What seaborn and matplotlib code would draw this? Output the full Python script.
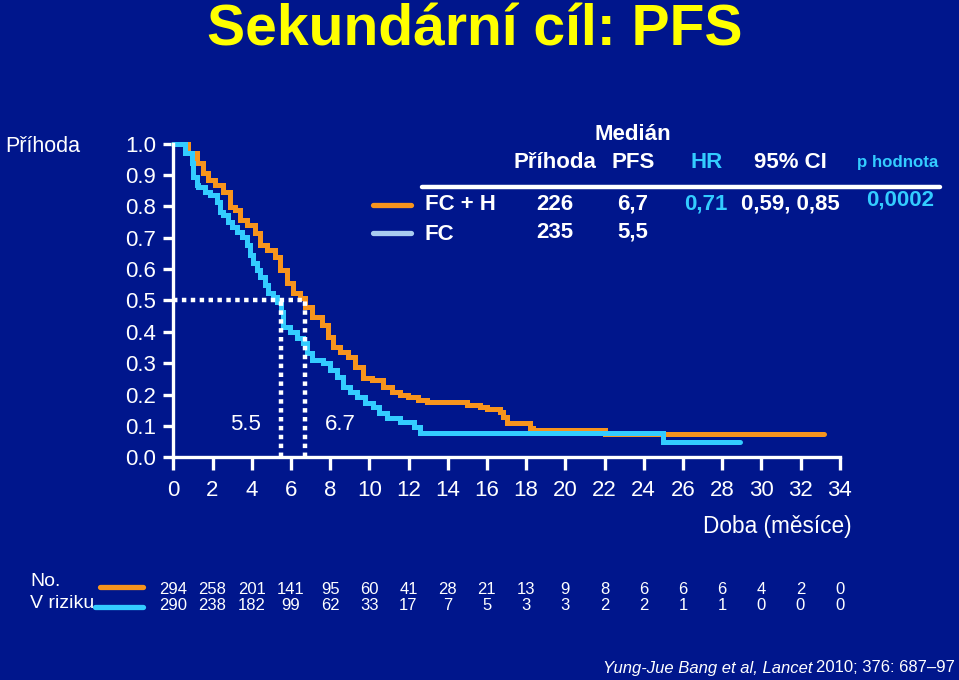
import matplotlib
matplotlib.use("Agg")
import matplotlib.pyplot as plt
import matplotlib.transforms as mtransforms
from matplotlib.lines import Line2D
import seaborn as sns
import pandas as pd

# ---------------- data ----------------
fch_time = [0, 0.75, 1.21, 1.52, 1.77, 2.13, 2.54, 2.89, 3.15, 3.40, 3.76, 4.17, 4.42,
            4.78, 5.19, 5.45, 5.80, 6.11, 6.47, 6.72, 7.09, 7.59, 7.89, 8.14, 8.50,
            8.91, 9.27, 9.68, 10.14, 10.70, 11.16, 11.57, 11.98, 12.49, 12.95, 15.0,
            15.65, 16.0, 16.67, 16.8, 17.02, 18.2, 18.35, 22.0, 33.2]
fch_surv = [1.0, 0.970, 0.938, 0.906, 0.884, 0.868, 0.846, 0.798, 0.788, 0.756, 0.740,
            0.715, 0.677, 0.661, 0.639, 0.597, 0.556, 0.524, 0.508, 0.479, 0.447,
            0.421, 0.383, 0.351, 0.335, 0.319, 0.288, 0.253, 0.246, 0.224, 0.208,
            0.199, 0.192, 0.183, 0.176, 0.167, 0.160, 0.154, 0.144, 0.128, 0.109,
            0.093, 0.087, 0.075, 0.075]
fc_time = [0, 0.6, 0.95, 1.0, 1.21, 1.28, 1.62, 1.87, 2.23, 2.38, 2.54, 2.79, 3.0,
           3.25, 3.5, 3.76, 3.9, 4.07, 4.27, 4.42, 4.68, 4.83, 5.09, 5.29, 5.5, 5.6,
           5.96, 6.3, 6.6, 6.8, 7.1, 7.63, 7.99, 8.35, 8.66, 9.0, 9.36, 9.77, 10.2,
           10.5, 10.9, 11.57, 12.3, 12.6, 25.0, 28.9]
fc_surv = [1.0, 0.970, 0.938, 0.894, 0.868, 0.862, 0.846, 0.836, 0.814, 0.782, 0.772,
           0.750, 0.734, 0.718, 0.702, 0.677, 0.645, 0.619, 0.597, 0.574, 0.549,
           0.524, 0.510, 0.495, 0.463, 0.415, 0.399, 0.380, 0.364, 0.332, 0.310,
           0.301, 0.278, 0.256, 0.224, 0.208, 0.192, 0.173, 0.160, 0.141, 0.125,
           0.113, 0.097, 0.078, 0.050, 0.050]

medians = [5.5, 6.7]
median_labels = ["5.5", "6.7"]

x_ticks = list(range(0, 35, 2))
y_ticks = [0.0, 0.1, 0.2, 0.3, 0.4, 0.5, 0.6, 0.7, 0.8, 0.9, 1.0]

risk_fch = [294, 258, 201, 141, 95, 60, 41, 28, 21, 13, 9, 8, 6, 6, 6, 4, 2, 0]
risk_fc = [290, 238, 182, 99, 62, 33, 17, 7, 5, 3, 3, 2, 2, 1, 1, 0, 0, 0]

table_cols = ["Příhoda", "PFS", "HR", "95% CI", "p hodnota"]
row_fch = ["FC + H", "226", "6,7", "0,71", "0,59, 0,85", "0,0002"]
row_fc = ["FC", "235", "5,5"]

# ---------------- style ----------------
BG = "#00168C"
ORANGE = "#F7941D"
CYAN = "#33CCFF"
PALE = "#A8CCF0"
YELLOW = "#FFFF00"

sns.set_style("ticks")
plt.rcParams["font.family"] = ["Liberation Sans", "DejaVu Sans"]

W, H = 959, 680
fig = plt.figure(figsize=(W / 100, H / 100), dpi=100, facecolor=BG)


def P(x, y):
    return x / W, 1 - y / H


x0, x1 = 173.3, 839.7
y0, y1 = 457.3, 143.6
ax = fig.add_axes([x0 / W, 1 - y0 / H, (x1 - x0) / W, (y0 - y1) / H])
ax.set_facecolor(BG)

df1 = pd.DataFrame({"t": fch_time, "s": fch_surv})
df2 = pd.DataFrame({"t": fc_time, "s": fc_surv})
sns.lineplot(data=df1, x="t", y="s", ax=ax, color=ORANGE, lw=3.6, drawstyle="steps-post",
             estimator=None, sort=False, clip_on=False, solid_joinstyle="miter")
sns.lineplot(data=df2, x="t", y="s", ax=ax, color=CYAN, lw=3.6, drawstyle="steps-post",
             estimator=None, sort=False, clip_on=False, solid_joinstyle="miter")

# median guide lines
dot = dict(color="white", lw=3.2, ls=(0, (1, 1)), dash_capstyle="butt")
ax.plot([0, max(medians)], [0.5, 0.5], **dot)
for m in medians:
    ax.plot([m, m], [0, 0.5], **dot)
ax.text(3.66, 0.103, median_labels[0], color="white", fontsize=16, ha="center", va="center")
ax.text(8.5, 0.103, median_labels[1], color="white", fontsize=16, ha="center", va="center")

ax.set_xlim(0, 34)
ax.set_ylim(0, 1)
ax.set_xticks(x_ticks)
ax.set_xticklabels([str(v) for v in x_ticks])
ax.set_yticks(y_ticks)
ax.set_yticklabels([f"{v:.1f}" for v in y_ticks])
for s in ["top", "right"]:
    ax.spines[s].set_visible(False)
for s in ["left", "bottom"]:
    ax.spines[s].set_color("white")
    ax.spines[s].set_linewidth(2.4)
ax.tick_params(axis="x", colors="white", length=9.5, width=2.4, labelsize=16, pad=7)
ax.tick_params(axis="y", colors="white", length=7.5, width=2.4, labelsize=16, pad=5)
ax.set_xlabel("")
ax.set_ylabel("")

# ---------------- texts ----------------
fig.text(*P(475, 45), "Sekundární cíl: PFS", color=YELLOW, fontsize=41, fontweight="bold",
         ha="center", va="baseline")
fig.text(*P(5, 147), "Příhoda", color="white", fontsize=15.5, ha="left", va="center")
fig.text(*P(777, 527), "Doba (měsíce)", color="white", fontsize=16.3, ha="center", va="center")

bold = dict(fontsize=16, fontweight="bold", va="center")
fig.text(*P(633, 134), "Medián", color="white", ha="center", **bold)
fig.text(*P(555, 162), table_cols[0], color="white", ha="center", **bold)
fig.text(*P(633, 162), table_cols[1], color="white", ha="center", **bold)
fig.text(*P(707, 162), table_cols[2], color=CYAN, ha="center", **bold)
fig.text(*P(790, 162), table_cols[3], color="white", ha="center", **bold)
fig.text(*P(898, 162), table_cols[4], color=CYAN, ha="center", fontsize=12.2,
         fontweight="bold", va="center")
fig.add_artist(Line2D([422 / W, 940 / W], [1 - 187 / H, 1 - 187 / H], color="white", lw=3.2))

fig.add_artist(Line2D([373 / W, 411 / W], [1 - 205 / H] * 2, color=ORANGE, lw=3.8))
fig.add_artist(Line2D([373 / W, 411 / W], [1 - 233 / H] * 2, color=PALE, lw=3.8))
fig.text(*P(425, 204), row_fch[0], color="white", ha="left", **bold)
fig.text(*P(555, 204), row_fch[1], color="white", ha="center", **bold)
fig.text(*P(633, 204), row_fch[2], color="white", ha="center", **bold)
fig.text(*P(706, 204), row_fch[3], color=CYAN, ha="center", **bold)
fig.text(*P(790, 204), row_fch[4], color="white", ha="center", **bold)
fig.text(*P(900, 200), row_fch[5], color=CYAN, ha="center", **bold)
fig.text(*P(425, 234), row_fc[0], color="white", ha="left", **bold)
fig.text(*P(555, 232), row_fc[1], color="white", ha="center", **bold)
fig.text(*P(633, 232), row_fc[2], color="white", ha="center", **bold)

# ---------------- risk table ----------------
fig.text(*P(30, 581), "No.", color="white", ha="left", va="center", fontsize=14)
fig.text(*P(30, 604), "V riziku", color="white", ha="left", va="center", fontsize=14)
fig.add_artist(Line2D([100 / W, 143 / W], [1 - 587 / H] * 2, color=ORANGE, lw=3.8))
fig.add_artist(Line2D([95 / W, 143 / W], [1 - 607 / H] * 2, color=CYAN, lw=3.8))
bt = mtransforms.blended_transform_factory(ax.transData, fig.transFigure)
for xv, a, b in zip(x_ticks, risk_fch, risk_fc):
    ax.text(xv, 1 - 589 / H, str(a), transform=bt, color="white", ha="center",
            va="center", clip_on=False, fontsize=12)
    ax.text(xv, 1 - 605 / H, str(b), transform=bt, color="white", ha="center",
            va="center", clip_on=False, fontsize=12)

# ---------------- citation ----------------
t_reg = fig.text(*P(955, 668), "2010; 376: 687\u201397", color="white", ha="right",
                 va="center", fontsize=12)
fig.canvas.draw()
bb = t_reg.get_window_extent(fig.canvas.get_renderer())
fig.text((bb.x0 - 4) / W, 1 - 668 / H, "Yung-Jue Bang et al, Lancet", color="white",
         ha="right", va="center", style="italic", fontsize=12)

fig.savefig("out.png", dpi=100, facecolor=BG)
